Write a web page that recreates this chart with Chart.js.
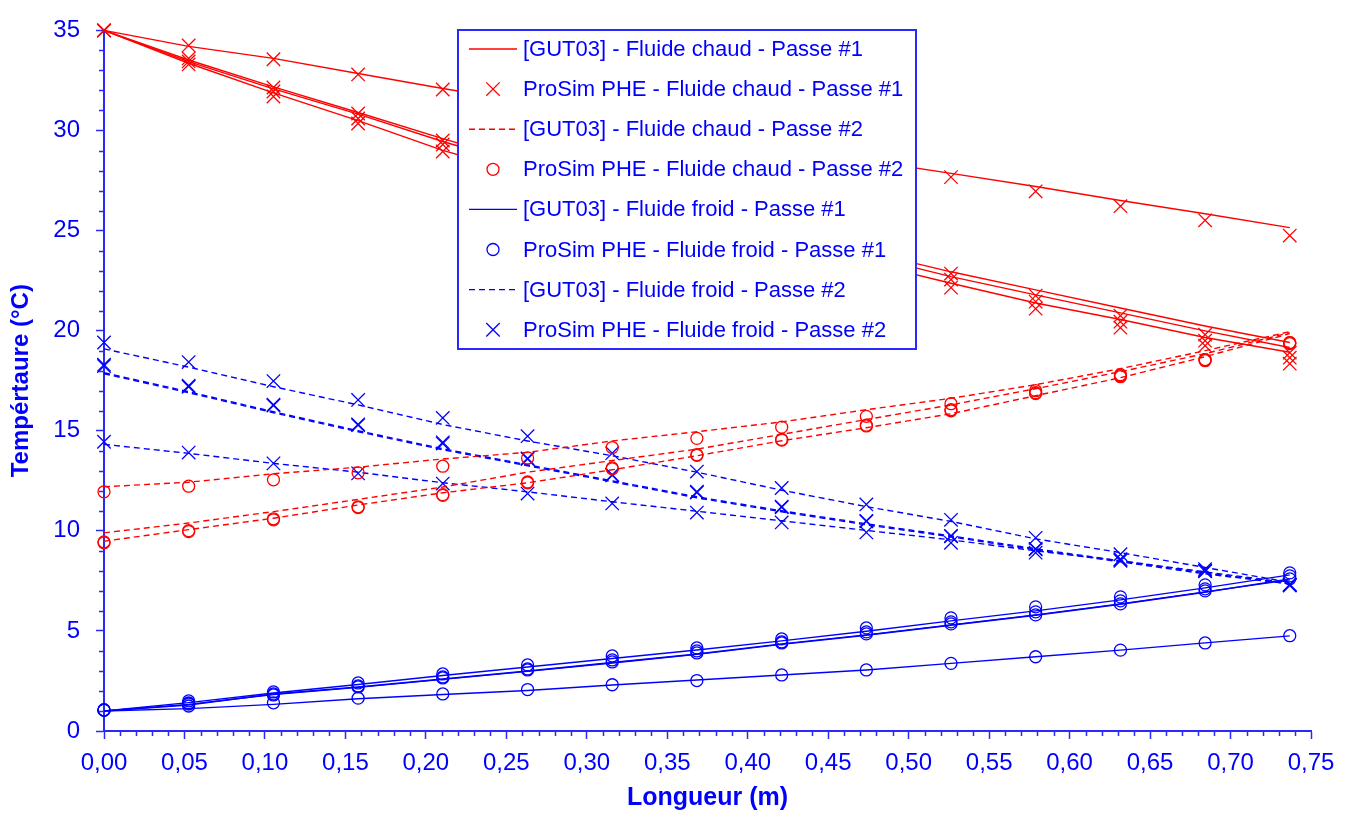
<!DOCTYPE html>
<html>
<head>
<meta charset="utf-8">
<script src="https://cdn.jsdelivr.net/npm/chart.js@4.4.0/dist/chart.umd.min.js"></script>
<style>
html, body { margin: 0; padding: 0; background: #fff; }
canvas { display: block; }
</style>
</head>
<body>
<canvas id="tempChart" width="1353" height="813"></canvas>
<script>
// positions le long de la plaque (m)
var lengths = [0, 0.0526, 0.1053, 0.1579, 0.2105, 0.2632, 0.3158, 0.3684, 0.4211, 0.4737, 0.5263, 0.5789, 0.6316, 0.6842, 0.7368];

// fluide chaud - passe 1
var hotPass1Model = [
	[35, 34.2, 33.6, 32.85, 32.1, 31.4, 30.65, 29.9, 29.2, 28.5, 27.86, 27.2, 26.5, 25.84, 25.15],
	[35, 33.52, 32.18, 30.9, 29.59, 28.35, 27.2, 26.1, 25.0, 23.95, 22.94, 22.04, 21.13, 20.23, 19.41],
	[35, 33.44, 32.08, 30.82, 29.45, 28.2, 27.05, 25.95, 24.85, 23.75, 22.7, 21.79, 20.89, 19.99, 19.16],
	[35, 33.36, 31.88, 30.49, 29.01, 27.8, 26.6, 25.55, 24.45, 23.4, 22.37, 21.38, 20.56, 19.66, 18.92]
];
var hotPass1Sim = [
	[35, 34.25, 33.56, 32.8, 32.05, 31.35, 30.6, 29.85, 29.1, 28.4, 27.67, 26.96, 26.22, 25.51, 24.75],
	[35, 33.6, 32.15, 30.85, 29.5, 28.3, 27.15, 26.05, 24.95, 23.9, 22.85, 21.75, 20.75, 19.8, 18.9],
	[35, 33.45, 31.95, 30.6, 29.3, 28.05, 26.9, 25.8, 24.7, 23.65, 22.55, 21.45, 20.45, 19.5, 18.65],
	[35, 33.3, 31.7, 30.35, 28.95, 27.7, 26.6, 25.45, 24.35, 23.3, 22.15, 21.1, 20.15, 19.25, 18.35]
];

// fluide chaud - passe 2
var hotPass2Model = [
	[12.2, 12.43, 12.85, 13.18, 13.59, 13.92, 14.49, 14.95, 15.44, 16.05, 16.62, 17.3, 18.1, 19.0, 19.95],
	[9.9, 10.39, 10.96, 11.57, 12.19, 12.93, 13.51, 14.08, 14.82, 15.56, 16.29, 17.1, 17.95, 18.85, 19.9],
	[9.48, 10.06, 10.63, 11.29, 11.9, 12.4, 13.05, 13.75, 14.5, 15.15, 15.85, 16.75, 17.65, 18.7, 19.85]
];
var hotPass2Sim = [
	[11.95, 12.23, 12.55, 12.9, 13.23, 13.64, 14.16, 14.62, 15.18, 15.72, 16.35, 17.0, 17.8, 18.55, 19.4],
	[9.45, 10.01, 10.6, 11.2, 11.81, 12.44, 13.14, 13.8, 14.57, 15.28, 16.05, 16.9, 17.75, 18.55, 19.4],
	[9.4, 9.96, 10.55, 11.16, 11.77, 12.4, 13.1, 13.77, 14.53, 15.24, 16.0, 16.86, 17.7, 18.5, 19.35]
];

// fluide froid - passe 1
var coldPass1Model = [
	[1.0, 1.42, 1.9, 2.32, 2.77, 3.2, 3.62, 4.05, 4.5, 4.98, 5.5, 6.0, 6.55, 7.15, 7.8],
	[1.0, 1.3, 1.85, 2.2, 2.6, 3.0, 3.42, 3.85, 4.35, 4.8, 5.3, 5.8, 6.35, 6.95, 7.55],
	[1.0, 1.33, 1.82, 2.18, 2.58, 2.98, 3.4, 3.83, 4.33, 4.78, 5.28, 5.78, 6.33, 6.93, 7.6],
	[1.0, 1.12, 1.33, 1.61, 1.82, 2.02, 2.3, 2.55, 2.8, 3.05, 3.38, 3.71, 4.04, 4.4, 4.75]
];
var coldPass1Sim = [
	[1.05, 1.5, 1.95, 2.4, 2.85, 3.3, 3.75, 4.15, 4.6, 5.15, 5.65, 6.2, 6.7, 7.3, 7.9],
	[1.05, 1.4, 1.85, 2.25, 2.7, 3.1, 3.55, 4.0, 4.45, 4.95, 5.45, 5.95, 6.5, 7.1, 7.75],
	[1.05, 1.35, 1.8, 2.2, 2.65, 3.05, 3.45, 3.9, 4.4, 4.85, 5.35, 5.8, 6.35, 7.0, 7.6],
	[1.05, 1.25, 1.41, 1.64, 1.85, 2.07, 2.31, 2.52, 2.8, 3.05, 3.38, 3.71, 4.04, 4.4, 4.76]
];

// fluide froid - passe 2
var coldPass2Model = [
	[19.09, 18.18, 17.2, 16.29, 15.31, 14.49, 13.75, 12.93, 12.03, 11.21, 10.47, 9.6, 8.91, 8.17, 7.43],
	[17.9, 16.95, 15.95, 15.0, 14.1, 13.3, 12.5, 11.7, 11.0, 10.35, 9.75, 9.1, 8.5, 7.9, 7.35],
	[17.85, 16.9, 15.9, 14.95, 14.05, 13.25, 12.45, 11.65, 10.95, 10.3, 9.7, 9.05, 8.45, 7.85, 7.35],
	[14.32, 13.87, 13.37, 12.93, 12.4, 11.95, 11.45, 10.98, 10.5, 10.02, 9.55, 9.0, 8.5, 7.95, 7.4]
];
var coldPass2Sim = [
	[19.41, 18.43, 17.48, 16.54, 15.64, 14.73, 13.88, 12.96, 12.14, 11.32, 10.55, 9.65, 8.83, 8.09, 7.27],
	[18.23, 17.2, 16.26, 15.28, 14.36, 13.59, 12.77, 11.91, 11.21, 10.47, 9.73, 9.07, 8.58, 8.01, 7.3],
	[18.3, 17.25, 16.3, 15.32, 14.42, 13.62, 12.8, 11.95, 11.18, 10.5, 9.75, 9.1, 8.55, 7.98, 7.32],
	[14.45, 13.91, 13.37, 12.87, 12.36, 11.86, 11.37, 10.91, 10.42, 9.92, 9.4, 8.91, 8.5, 8.0, 7.3]
];

var legendLabels = [
	'[GUT03] - Fluide chaud - Passe #1',
	'ProSim PHE - Fluide chaud - Passe #1',
	'[GUT03] - Fluide chaud - Passe #2',
	'ProSim PHE - Fluide chaud - Passe #2',
	'[GUT03] - Fluide froid - Passe #1',
	'ProSim PHE - Fluide froid - Passe #1',
	'[GUT03] - Fluide froid - Passe #2',
	'ProSim PHE - Fluide froid - Passe #2'
];
var yTicks = [0, 5, 10, 15, 20, 25, 30, 35];

var RED = '#ff0000';
var BLUE = '#0000ff';
var AXIS = '#2828ff';
var FONT = "'Liberation Sans', Arial, sans-serif";

var groups = [
	{ curves: hotPass1Model, color: RED, dash: [], marker: false },
	{ curves: hotPass1Sim, color: RED, marker: 'crossRot' },
	{ curves: hotPass2Model, color: RED, dash: [6, 4], marker: false },
	{ curves: hotPass2Sim, color: RED, marker: 'circle' },
	{ curves: coldPass1Model, color: BLUE, dash: [], marker: false },
	{ curves: coldPass1Sim, color: BLUE, marker: 'circle' },
	{ curves: coldPass2Model, color: BLUE, dash: [6, 4], marker: false },
	{ curves: coldPass2Sim, color: BLUE, marker: 'crossRot' }
];

function markerRadius(style) {
	return style === 'crossRot' ? 9.5 : 6;
}

var datasets = [];
groups.forEach(function(g, gi) {
	g.curves.forEach(function(curve) {
		var pts = lengths.map(function(x, i) { return { x: x, y: curve[i] }; });
		if (g.marker) {
			datasets.push({
				label: legendLabels[gi],
				data: pts,
				showLine: false,
				pointStyle: g.marker,
				pointRadius: markerRadius(g.marker),
				pointBorderColor: g.color,
				pointBackgroundColor: 'rgba(0,0,0,0)',
				pointBorderWidth: 1.3,
				clip: false
			});
		} else {
			datasets.push({
				label: legendLabels[gi],
				data: pts,
				showLine: true,
				borderColor: g.color,
				borderWidth: 1.4,
				borderDash: g.dash,
				pointRadius: 0,
				tension: 0,
				clip: false
			});
		}
	});
});

// petites graduations
var minorTicks = {
	id: 'minorTicks',
	afterDraw: function(chart) {
		var ctx = chart.ctx;
		var xs = chart.scales.x, ys = chart.scales.y;
		ctx.save();
		ctx.strokeStyle = AXIS;
		ctx.lineWidth = 1.5;
		ctx.beginPath();
		for (var i = 0; i <= 75; i++) {
			if (i % 5 === 0) continue;
			var px = Math.round(xs.getPixelForValue(i / 100)) + 0.5;
			ctx.moveTo(px, ys.bottom);
			ctx.lineTo(px, ys.bottom + 5);
		}
		for (var j = 0; j <= 35; j++) {
			if (j % 5 === 0) continue;
			var py = Math.round(ys.getPixelForValue(j)) + 0.5;
			ctx.moveTo(xs.left, py);
			ctx.lineTo(xs.left - 5, py);
		}
		ctx.stroke();
		ctx.restore();
	}
};

// légende encadrée
var boxLegend = {
	id: 'boxLegend',
	afterDraw: function(chart) {
		var ctx = chart.ctx;
		var left = 458, top = 30, w = 458, h = 319;
		ctx.save();
		ctx.fillStyle = '#fff';
		ctx.fillRect(left, top, w, h);
		ctx.strokeStyle = AXIS;
		ctx.lineWidth = 2;
		ctx.strokeRect(left, top, w, h);
		ctx.font = '22px ' + FONT;
		ctx.textBaseline = 'middle';
		groups.forEach(function(g, i) {
			var y = 49 + i * 40.1;
			ctx.strokeStyle = g.color;
			if (g.marker) {
				ctx.fillStyle = 'rgba(0,0,0,0)';
				ctx.lineWidth = 1.3;
				Chart.helpers.drawPoint(ctx, {
					pointStyle: g.marker,
					radius: markerRadius(g.marker),
					borderWidth: 1.3
				}, 493, y);
			} else {
				ctx.lineWidth = 1.4;
				ctx.setLineDash(g.dash);
				ctx.beginPath();
				ctx.moveTo(469, y);
				ctx.lineTo(517, y);
				ctx.stroke();
				ctx.setLineDash([]);
			}
			ctx.fillStyle = BLUE;
			ctx.fillText(legendLabels[i], 523, y + 1);
		});
		ctx.restore();
	}
};

Chart.defaults.font.family = FONT;
Chart.defaults.color = BLUE;

var ctx = document.getElementById('tempChart').getContext('2d');
var chart = new Chart(ctx, {
	type: 'scatter',
	data: { datasets: datasets },
	options: {
		responsive: false,
		animation: false,
		devicePixelRatio: 1,
		layout: { padding: { top: 20, right: 42, left: 0, bottom: 0 } },
		plugins: {
			legend: { display: false },
			tooltip: { enabled: false }
		},
		scales: {
			x: {
				type: 'linear',
				min: 0,
				max: 0.75,
				afterFit: function(s) { s.height = 82; },
				ticks: {
					stepSize: 0.05,
					font: { size: 24 },
					color: BLUE,
					padding: 10,
					maxRotation: 0,
					autoSkip: false,
					callback: function(v) { return v.toFixed(2).replace('.', ','); }
				},
				grid: { drawOnChartArea: false, tickLength: 8, tickColor: AXIS, tickWidth: 1.5 },
				border: { color: AXIS, width: 2 },
				title: {
					display: true,
					text: 'Longueur (m)',
					color: BLUE,
					font: { size: 25, weight: 'bold' },
					padding: { top: 0, bottom: 0 }
				}
			},
			y: {
				type: 'linear',
				min: 0,
				max: 35,
				afterFit: function(s) { s.width = 104; },
				afterBuildTicks: function(s) { s.ticks = yTicks.map(function(v) { return { value: v }; }); },
				ticks: {
					font: { size: 24 },
					color: BLUE,
					padding: 16
				},
				grid: { drawOnChartArea: false, tickLength: 8, tickColor: AXIS, tickWidth: 1.5 },
				border: { color: AXIS, width: 2 },
				title: {
					display: true,
					text: 'Tempértaure (°C)',
					color: BLUE,
					font: { size: 24, weight: 'bold' },
					padding: { top: 7, bottom: 0 }
				}
			}
		}
	},
	plugins: [minorTicks, boxLegend]
});
</script>
</body>
</html>
